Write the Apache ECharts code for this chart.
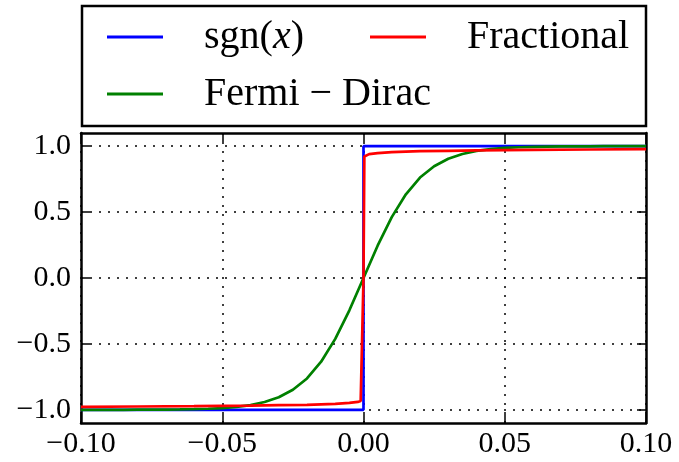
<!DOCTYPE html>
<html>
<head>
<meta charset="utf-8">
<script src="https://cdn.jsdelivr.net/npm/echarts@6/dist/echarts.min.js"></script>
<style>
  html, body { margin: 0; padding: 0; background: #fff; }
  #chart { width: 679px; height: 462px; }
</style>
</head>
<body>
<div id="chart"></div>
<script>
// tick values
const xTicks = [-0.1, -0.05, 0, 0.05, 0.1];
const yTicks = [-1, -0.5, 0, 0.5, 1];

// sgn(x)
const sgnX = [-0.1, 0, 0, 0.1];
const sgnY = [-1, -1, 1, 1];

// Fermi - Dirac
const fdX = [-0.1, -0.095, -0.09, -0.085, -0.08, -0.075, -0.07, -0.065, -0.06, -0.055,
  -0.05, -0.045, -0.04, -0.035, -0.03, -0.025, -0.02, -0.015, -0.01, -0.005,
  0, 0.005, 0.01, 0.015, 0.02, 0.025, 0.03, 0.035, 0.04, 0.045,
  0.05, 0.055, 0.06, 0.065, 0.07, 0.075, 0.08, 0.085, 0.09, 0.095, 0.1];
const fdY = [-1, -1, -1, -1, -0.999, -0.999, -0.998, -0.997, -0.995, -0.992,
  -0.987, -0.978, -0.964, -0.941, -0.905, -0.848, -0.762, -0.635, -0.462, -0.245,
  0, 0.245, 0.462, 0.635, 0.762, 0.848, 0.905, 0.941, 0.964, 0.978,
  0.987, 0.992, 0.995, 0.997, 0.998, 0.999, 0.999, 1, 1, 1, 1];

// Fractional (red curve)
const frX = [-0.1, -0.08, -0.06, -0.04, -0.03, -0.02, -0.01, -0.005, -0.002, -0.001, -0.0003,
  0, 0.0003, 0.001, 0.002, 0.005, 0.01, 0.02, 0.03, 0.04, 0.06, 0.08, 0.1];
const frY = [-0.978, -0.975, -0.972, -0.968, -0.965, -0.962, -0.955, -0.948, -0.94, -0.933, -0.922,
  0, 0.922, 0.933, 0.94, 0.948, 0.955, 0.962, 0.965, 0.968, 0.972, 0.975, 0.978];

const pairs = (xs, ys) => xs.map((x, i) => [x, ys[i]]);

const FONT = 'Liberation Serif';
const fmt = (v, d) => {
  if (Math.abs(v) < 1e-9) v = 0;
  return v.toFixed(d).replace('-', '\u2212');
};

const chart = echarts.init(document.getElementById('chart'), null, { renderer: 'canvas' });

const legendText = {
  color: '#000',
  fontFamily: FONT,
  fontSize: 40,
  padding: [0, 0, 0, 36],
  rich: {
    r: { fontFamily: FONT, fontSize: 40, color: '#000' },
    i: { fontFamily: FONT, fontSize: 40, fontStyle: 'italic', color: '#000' }
  }
};
const legendBase = {
  orient: 'horizontal',
  padding: 0,
  icon: 'rect',
  itemWidth: 56,
  itemHeight: 3,
  selectedMode: false,
  textStyle: legendText
};

const tickStyle = { show: true, inside: true, length: 9, lineStyle: { color: '#000', width: 1.5 } };
const lineStyle = { show: true, onZero: false, lineStyle: { color: '#000', width: 2.5 } };
const dotted = { show: true, lineStyle: { color: '#000', width: 1.5, type: [2, 7] } };

const option = {
  animation: false,
  backgroundColor: '#fff',
  graphic: [{
    type: 'rect',
    shape: { x: 82, y: 6, width: 564, height: 120 },
    style: { fill: 'none', stroke: '#000', lineWidth: 2.5 },
    z: 10
  }],
  legend: [
    Object.assign({}, legendBase, {
      left: 107, top: 17, data: ['sgn(x)'],
      formatter: () => '{r|sgn(}{i|x}{r|)}'
    }),
    Object.assign({}, legendBase, { left: 370, top: 17, data: ['Fractional'] }),
    Object.assign({}, legendBase, { left: 107, top: 74, data: ['Fermi \u2212 Dirac'] })
  ],
  grid: { left: 81, right: 33, top: 133, bottom: 39, containLabel: false },
  xAxis: [{
    type: 'value',
    min: xTicks[0],
    max: xTicks[xTicks.length - 1],
    interval: 0.05,
    z: 3,
    axisLine: lineStyle,
    axisTick: tickStyle,
    splitLine: dotted,
    axisLabel: {
      color: '#000', fontFamily: FONT, fontSize: 30, margin: 6,
      formatter: v => fmt(v, 2)
    }
  }, {
    type: 'value',
    position: 'top',
    min: xTicks[0],
    max: xTicks[xTicks.length - 1],
    interval: 0.05,
    z: 3,
    axisLine: lineStyle,
    axisTick: tickStyle,
    splitLine: { show: false },
    axisLabel: { show: false }
  }],
  yAxis: [{
    type: 'value',
    min: -1.1,
    max: 1.1,
    z: 3,
    axisLine: lineStyle,
    axisTick: Object.assign({ customValues: yTicks }, tickStyle),
    splitLine: Object.assign({ customValues: yTicks }, dotted),
    axisLabel: {
      customValues: yTicks,
      color: '#000', fontFamily: FONT, fontSize: 30, margin: 10,
      formatter: v => fmt(v, 1)
    }
  }, {
    type: 'value',
    position: 'right',
    min: -1.1,
    max: 1.1,
    z: 3,
    axisLine: lineStyle,
    axisTick: Object.assign({ customValues: yTicks }, tickStyle),
    splitLine: { show: false },
    axisLabel: { show: false }
  }],
  series: [
    {
      name: 'sgn(x)', type: 'line', xAxisIndex: 0, yAxisIndex: 0,
      data: pairs(sgnX, sgnY), symbol: 'none',
      color: '#0000ff', lineStyle: { color: '#0000ff', width: 2.7 }
    },
    {
      name: 'Fermi \u2212 Dirac', type: 'line', xAxisIndex: 0, yAxisIndex: 0,
      data: pairs(fdX, fdY), symbol: 'none',
      color: '#008000', lineStyle: { color: '#008000', width: 2.7 }
    },
    {
      name: 'Fractional', type: 'line', xAxisIndex: 0, yAxisIndex: 0,
      data: pairs(frX, frY), symbol: 'none',
      color: '#ff0000', lineStyle: { color: '#ff0000', width: 2.7 }
    }
  ]
};

chart.setOption(option);
</script>
</body>
</html>
